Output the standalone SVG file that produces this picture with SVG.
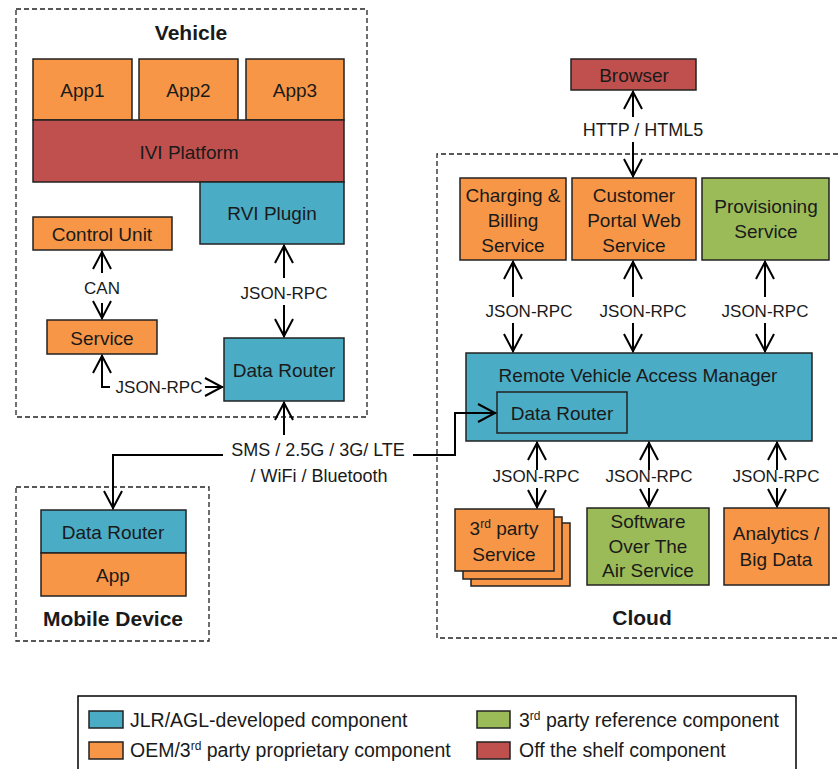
<svg xmlns="http://www.w3.org/2000/svg" width="838" height="769" viewBox="0 0 838 769">
  <defs>
    <style>
      text { font-family: "Liberation Sans", Arial, sans-serif; fill: #1a1a1a; }
      .t { font-size: 19px; text-anchor: middle; }
      .lbl { font-size: 17px; text-anchor: middle; }
      .lbl18 { font-size: 18px; text-anchor: middle; }
      .title { font-size: 21px; font-weight: bold; text-anchor: middle; }
      .leg { font-size: 19.5px; }
      .box { stroke: #222; stroke-width: 1.5; }
      .blue { fill: #4BACC6; }
      .orange { fill: #F79646; }
      .red { fill: #C0504D; }
      .green { fill: #9BBB59; }
      .group { fill: none; stroke: #222; stroke-width: 1.3; stroke-dasharray: 5 3; }
      .conn { fill: none; stroke: #000; stroke-width: 2; marker-end: url(#ah); }
    </style>
    <marker id="ah" markerUnits="userSpaceOnUse" markerWidth="26" markerHeight="26" viewBox="-20 -13 26 26" refX="1" refY="0" orient="auto">
      <path d="M-17,-9 L0,0 L-17,9" fill="none" stroke="#000" stroke-width="2"/>
    </marker>
  </defs>

  <!-- grouping frames -->
  <rect class="group" x="16" y="9" width="351" height="408"/>
  <rect class="group" x="16" y="487" width="193" height="154"/>
  <path class="group" d="M846,154 H437 V638 H846"/>
  <text class="title" x="191" y="40">Vehicle</text>
  <text class="title" x="113" y="626">Mobile Device</text>
  <text class="title" x="642" y="625">Cloud</text>

  <!-- vehicle nodes -->
  <g id="app1"><rect class="box orange" x="33" y="59" width="99" height="61"/><text class="t" x="82.5" y="97">App1</text></g>
  <g id="app2"><rect class="box orange" x="139" y="59" width="99" height="61"/><text class="t" x="188.5" y="97">App2</text></g>
  <g id="app3"><rect class="box orange" x="246" y="59" width="98" height="61"/><text class="t" x="295" y="97">App3</text></g>
  <g id="ivi-platform"><rect class="box red" x="33" y="120" width="311" height="62"/><text class="t" x="189" y="159">IVI Platform</text></g>
  <g id="rvi-plugin"><rect class="box blue" x="200" y="182" width="144" height="62"/><text class="t" x="272" y="220">RVI Plugin</text></g>
  <g id="control-unit"><rect class="box orange" x="33" y="217" width="139" height="33"/><text class="t" x="102" y="241">Control Unit</text></g>
  <g id="service"><rect class="box orange" x="47" y="320" width="110" height="34"/><text class="t" x="102" y="345">Service</text></g>
  <g id="vehicle-data-router"><rect class="box blue" x="224" y="338" width="120" height="63"/><text class="t" x="284" y="377">Data Router</text></g>

  <!-- mobile nodes -->
  <g id="mobile-data-router"><rect class="box blue" x="41" y="510" width="145" height="43"/><text class="t" x="113" y="539">Data Router</text></g>
  <g id="mobile-app"><rect class="box orange" x="41" y="553" width="145" height="43"/><text class="t" x="113" y="582">App</text></g>

  <!-- cloud nodes -->
  <g id="browser"><rect class="box red" x="571" y="59" width="125" height="31"/><text class="t" x="634" y="82">Browser</text></g>
  <g id="charging-billing"><rect class="box orange" x="460" y="178" width="106" height="82"/>
    <text class="t" x="513" y="202">Charging &amp;</text><text class="t" x="513" y="227">Billing</text><text class="t" x="513" y="252">Service</text></g>
  <g id="customer-portal"><rect class="box orange" x="572" y="178" width="124" height="82"/>
    <text class="t" x="634" y="202">Customer</text><text class="t" x="634" y="227">Portal Web</text><text class="t" x="634" y="252">Service</text></g>
  <g id="provisioning"><rect class="box green" x="702" y="178" width="127" height="82"/>
    <text class="t" x="766" y="213">Provisioning</text><text class="t" x="766" y="238">Service</text></g>
  <g id="rvam"><rect class="box blue" x="466" y="353" width="346" height="88"/>
    <text class="t" x="638" y="382">Remote Vehicle Access Manager</text></g>
  <g id="cloud-data-router"><rect class="box blue" x="497" y="392" width="130" height="41"/><text class="t" x="562" y="420">Data Router</text></g>
  <g id="third-party-service">
    <rect class="box orange" x="471" y="523" width="99" height="63"/>
    <rect class="box orange" x="463" y="517" width="99" height="62"/>
    <rect class="box orange" x="455" y="509" width="99" height="62"/>
    <text class="t" x="504" y="535">3<tspan font-size="12" dy="-7">rd</tspan><tspan dy="7"> party</tspan></text>
    <text class="t" x="504" y="561">Service</text></g>
  <g id="sota"><rect class="box green" x="587" y="508" width="122" height="77"/>
    <text class="t" x="648" y="528">Software</text><text class="t" x="648" y="553">Over The</text><text class="t" x="648" y="577">Air Service</text></g>
  <g id="analytics"><rect class="box orange" x="724" y="508" width="105" height="77"/>
    <text class="t" x="776" y="540">Analytics /</text><text class="t" x="776" y="566">Big Data</text></g>

  <!-- connectors -->
  <g id="connectors">
    <path class="conn" d="M102,273 V251"/>
    <path class="conn" d="M102,303 V319"/>
    <text class="lbl" x="102" y="294">CAN</text>

    <path class="conn" d="M284,278 V245"/>
    <path class="conn" d="M284,305 V337"/>
    <text class="lbl" x="284" y="299">JSON-RPC</text>

    <path class="conn" d="M110,387 H102 V355"/>
    <path class="conn" d="M205,387 H223"/>
    <text class="lbl" x="159" y="393">JSON-RPC</text>

    <path class="conn" d="M284,435 V402"/>
    <path class="conn" d="M223,455 H113 V509"/>
    <path class="conn" d="M413,455 H455 V413 H496"/>
    <text class="lbl18" x="318" y="456">SMS / 2.5G / 3G/ LTE</text>
    <text class="lbl18" x="319" y="482">/ WiFi / Bluetooth</text>

    <path class="conn" d="M633,117 V91"/>
    <path class="conn" d="M633,142 V177"/>
    <text class="lbl18" x="643" y="136">HTTP / HTML5</text>

    <path class="conn" d="M513,297 V261"/>
    <path class="conn" d="M513,323 V352"/>
    <text class="lbl" x="529" y="317">JSON-RPC</text>
    <path class="conn" d="M633,297 V261"/>
    <path class="conn" d="M633,323 V352"/>
    <text class="lbl" x="643" y="317">JSON-RPC</text>
    <path class="conn" d="M765,297 V261"/>
    <path class="conn" d="M765,323 V352"/>
    <text class="lbl" x="765" y="317">JSON-RPC</text>

    <path class="conn" d="M537,470 V442"/>
    <path class="conn" d="M537,488 V508"/>
    <text class="lbl" x="536" y="482">JSON-RPC</text>
    <path class="conn" d="M649,470 V442"/>
    <path class="conn" d="M649,488 V507"/>
    <text class="lbl" x="649" y="482">JSON-RPC</text>
    <path class="conn" d="M777,470 V442"/>
    <path class="conn" d="M777,488 V507"/>
    <text class="lbl" x="776" y="482">JSON-RPC</text>
  </g>

  <!-- legend -->
  <g id="legend">
    <rect x="78" y="696" width="718" height="90" fill="#fff" stroke="#000" stroke-width="1.5"/>
    <rect class="box blue" x="89" y="711" width="34" height="17"/>
    <text class="leg" x="130" y="727">JLR/AGL-developed component</text>
    <rect class="box orange" x="89" y="742" width="34" height="17"/>
    <text class="leg" x="130" y="757">OEM/3<tspan font-size="12" dy="-7">rd</tspan><tspan dy="7"> party proprietary component</tspan></text>
    <rect class="box green" x="477" y="711" width="33" height="17"/>
    <text class="leg" x="519" y="727">3<tspan font-size="12" dy="-7">rd</tspan><tspan dy="7"> party reference component</tspan></text>
    <rect class="box red" x="477" y="742" width="33" height="17"/>
    <text class="leg" x="519" y="757">Off the shelf component</text>
  </g>
</svg>
